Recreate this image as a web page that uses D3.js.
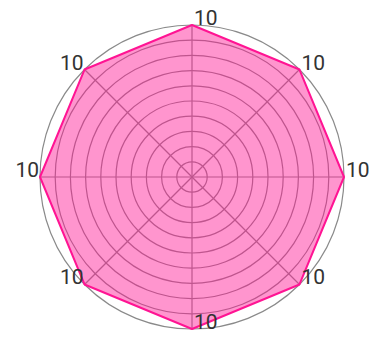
<!DOCTYPE html>
<html>
<head>
<meta charset="utf-8">
<script src="https://cdn.jsdelivr.net/npm/d3@7"></script>
<style>
  html, body { margin: 0; padding: 0; background: #fff; }
  svg { display: block; }
</style>
</head>
<body>
<svg id="chart" width="374" height="338"></svg>
<script>
const categories = ["A", "B", "C", "D", "E", "F", "G", "H"];
const values = [10, 10, 10, 10, 10, 10, 10, 10];
const ringTicks = [1, 2, 3, 4, 5, 6, 7, 8, 9, 10];
const maxValue = 10;

const svg = d3.select("#chart");
const cx = 192, cy = 177, R = 152;

const r = d3.scaleLinear().domain([0, maxValue]).range([0, R]);
const angle = d3.scalePoint().domain(categories.concat(["_end"])).range([0, 2 * Math.PI]);

const g = svg.append("g").attr("transform", `translate(${cx},${cy})`);

// rings
g.selectAll("circle.ring").data(ringTicks).join("circle")
  .attr("class", "ring")
  .attr("r", d => r(d))
  .attr("fill", "none")
  .attr("stroke", "#8a8a8a")
  .attr("stroke-width", 1.2);

// axes
g.selectAll("line.axis").data(categories).join("line")
  .attr("class", "axis")
  .attr("x1", 0).attr("y1", 0)
  .attr("x2", d => r(maxValue) * Math.sin(angle(d)))
  .attr("y2", d => -r(maxValue) * Math.cos(angle(d)))
  .attr("stroke", "#8a8a8a")
  .attr("stroke-width", 1.2);

// polygon
const line = d3.lineRadial()
  .angle((d, i) => angle(categories[i]))
  .radius(d => r(d))
  .curve(d3.curveLinearClosed);

g.append("path")
  .datum(values)
  .attr("d", line)
  .attr("fill", "#ff1493")
  .attr("fill-opacity", 0.45)
  .attr("stroke", "#ff1493")
  .attr("stroke-width", 2)
  .attr("stroke-linejoin", "round");

// labels
g.selectAll("text.lbl").data(values).join("text")
  .attr("class", "lbl")
  .attr("x", (d, i) => {
    const a = angle(categories[i]);
    const x = r(d) * Math.sin(a);
    return x < -1 ? x - 1 : x + 2;
  })
  .attr("y", (d, i) => -r(d) * Math.cos(angle(categories[i])))
  .attr("text-anchor", (d, i) => r(d) * Math.sin(angle(categories[i])) < -1 ? "end" : "start")
  .attr("font-family", "Roboto, sans-serif")
  .attr("font-size", 21)
  .attr("fill", "#333")
  .text(d => d);
</script>
</body>
</html>
